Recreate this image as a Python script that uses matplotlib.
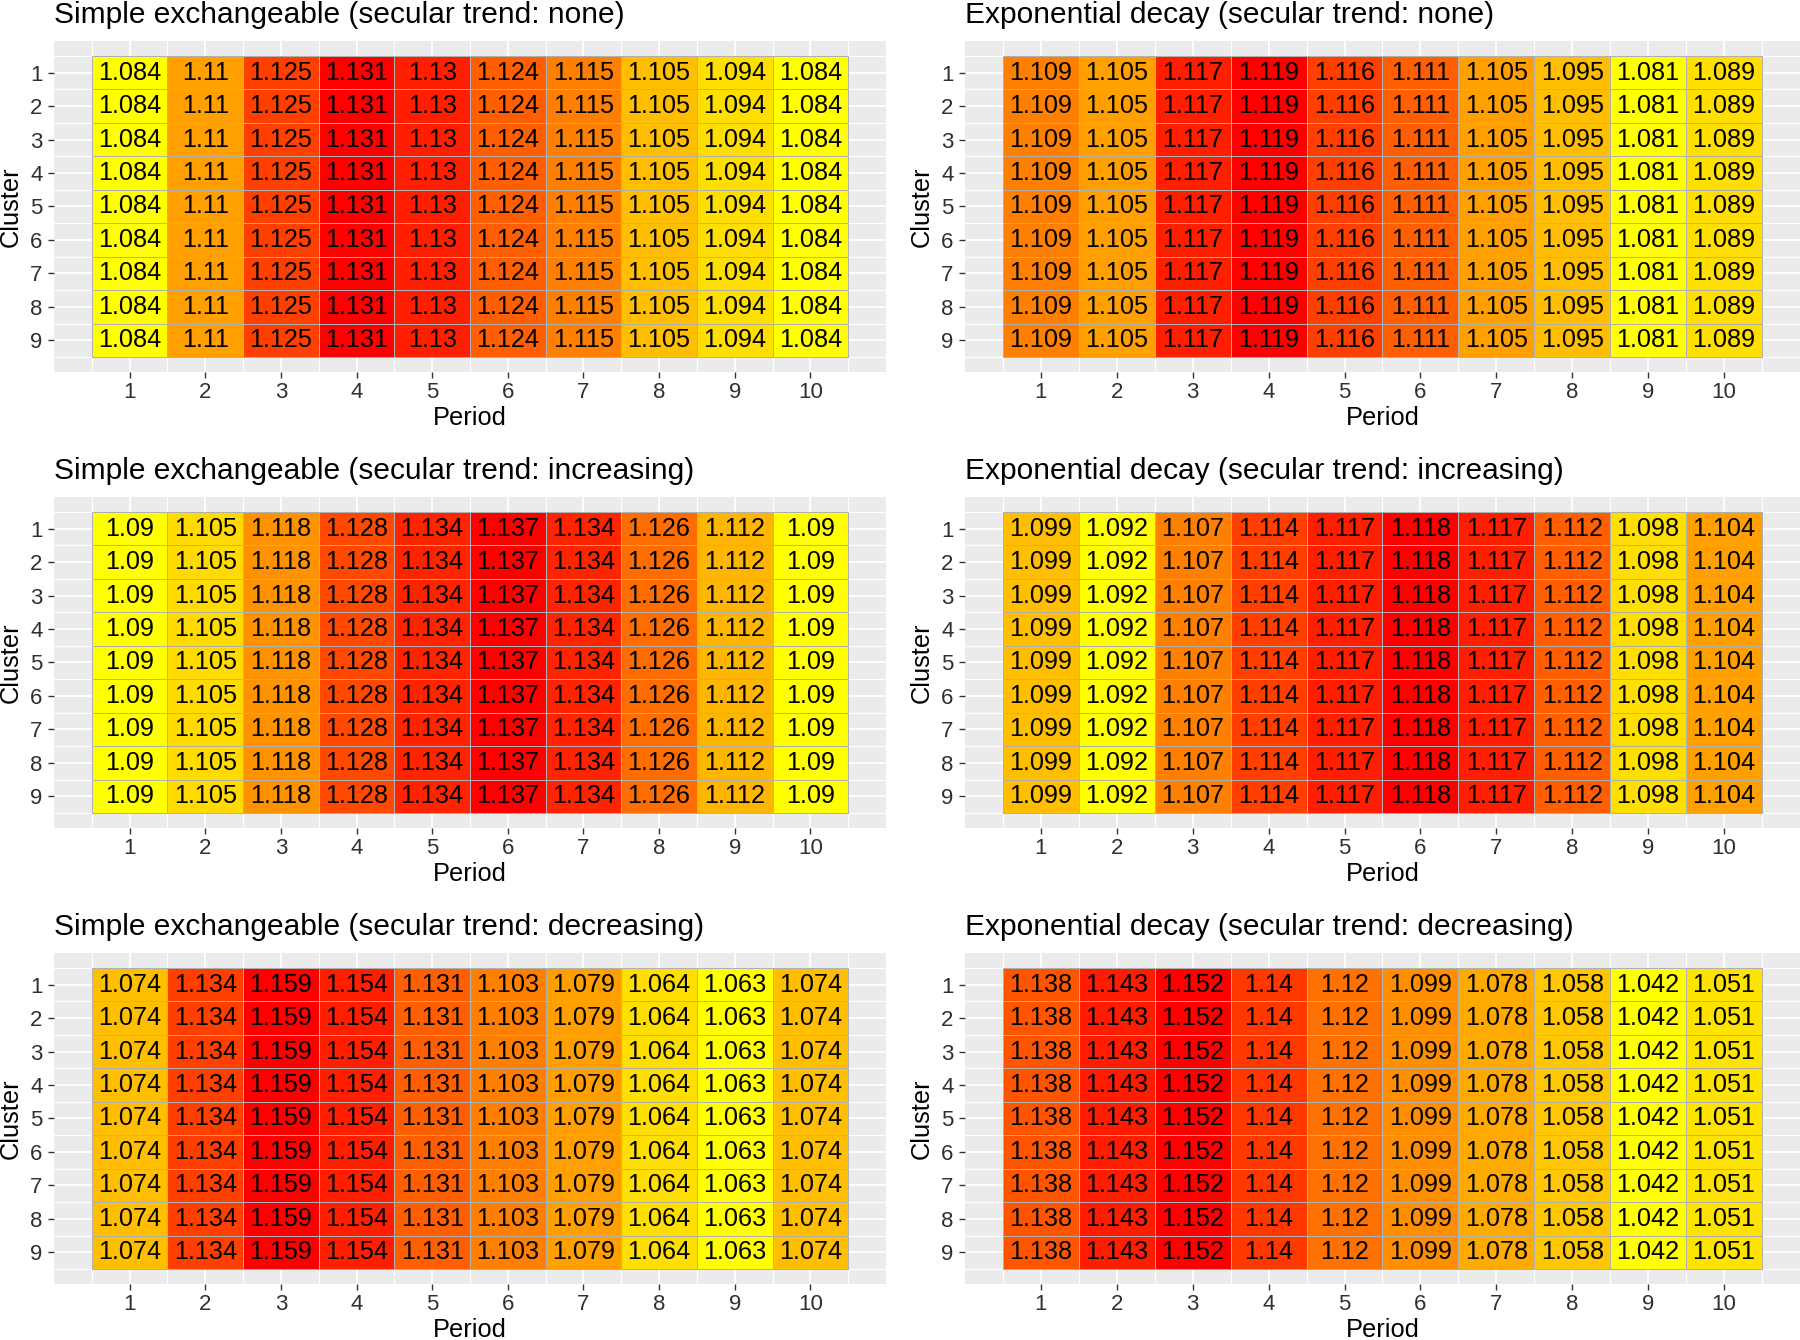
"""Six heatmaps: cell values by period and cluster, coloured by rank (yellow low -> red high)."""
import numpy as np
import matplotlib
matplotlib.use("Agg")
import matplotlib.pyplot as plt
from matplotlib.colors import LinearSegmentedColormap

plt.rcParams["font.family"] = ["Liberation Sans", "DejaVu Sans"]

periods = list(range(1, 11))
clusters = list(range(1, 10))

titles = [
    "Simple exchangeable (secular trend: none)",
    "Exponential decay (secular trend: none)",
    "Simple exchangeable (secular trend: increasing)",
    "Exponential decay (secular trend: increasing)",
    "Simple exchangeable (secular trend: decreasing)",
    "Exponential decay (secular trend: decreasing)",
]

# one value per period; every cluster row shows the same value
exch_none = [1.084, 1.11, 1.125, 1.131, 1.13, 1.124, 1.115, 1.105, 1.094, 1.084]
decay_none = [1.109, 1.105, 1.117, 1.119, 1.116, 1.111, 1.105, 1.095, 1.081, 1.089]
exch_incr = [1.09, 1.105, 1.118, 1.128, 1.134, 1.137, 1.134, 1.126, 1.112, 1.09]
decay_incr = [1.099, 1.092, 1.107, 1.114, 1.117, 1.118, 1.117, 1.112, 1.098, 1.104]
exch_decr = [1.074, 1.134, 1.159, 1.154, 1.131, 1.103, 1.079, 1.064, 1.063, 1.074]
decay_decr = [1.138, 1.143, 1.152, 1.14, 1.12, 1.099, 1.078, 1.058, 1.042, 1.051]

panels = [exch_none, decay_none, exch_incr, decay_incr, exch_decr, decay_decr]

cmap = LinearSegmentedColormap.from_list("yr", ["#FFFF00", "#FF0000"])

fig = plt.figure(figsize=(18, 13.4), dpi=100)
lefts = [0.03, 0.5361]
widths = [0.4622, 0.4639]
bottoms = [0.7224, 0.3821, 0.0418]
h = 0.2470

for i, (vals, title) in enumerate(zip(panels, titles)):
    r, c = divmod(i, 2)
    ax = fig.add_axes([lefts[c], bottoms[r], widths[c], h])
    grid = np.tile(np.array(vals), (len(clusters), 1))
    levels = np.unique(grid)
    rank = np.searchsorted(levels, grid)
    xe = np.arange(0.5, len(periods) + 1, 1.0)
    ye = np.arange(0.5, len(clusters) + 1, 1.0)
    ax.pcolormesh(xe, ye, rank, cmap=cmap, vmin=0, vmax=len(levels) - 1,
                  edgecolors="#b0b0b0", linewidth=0.5, zorder=2)
    for yi, cl in enumerate(clusters):
        for xi, p in enumerate(periods):
            ax.text(p, cl, f"{grid[yi, xi]:g}", ha="center", va="center",
                    fontsize=18.2, color="black", zorder=3)

    ax.set_xlim(0, 11)
    ax.set_ylim(9.95, 0.05)
    ax.set_facecolor("#EBEBEB")
    for s in ax.spines.values():
        s.set_visible(False)
    ax.set_xticks(periods)
    ax.set_yticks(clusters)
    ax.set_xticks(np.arange(0.5, 11, 1.0), minor=True)
    ax.set_yticks(np.arange(0.5, 10, 1.0), minor=True)
    ax.grid(which="major", color="white", lw=1.3, zorder=0)
    ax.grid(which="minor", color="white", lw=0.8, zorder=0)
    ax.set_axisbelow(True)
    ax.tick_params(which="major", length=4.2, width=1.0, color="#333333",
                   labelsize=16, labelcolor="#303030")
    ax.tick_params(axis="x", pad=3.0)
    ax.tick_params(axis="y", pad=4.0)
    ax.tick_params(which="minor", length=0)

    ax.set_title(title, loc="left", fontsize=21.5, pad=13)
    ax.set_xlabel("Period", fontsize=18.3)
    ax.set_ylabel("Cluster", fontsize=18.3)
    ax.xaxis.set_label_coords(0.5, -0.104)
    ax.yaxis.set_label_coords(-0.037, 0.5)

fig.savefig("out.png", dpi=100)
